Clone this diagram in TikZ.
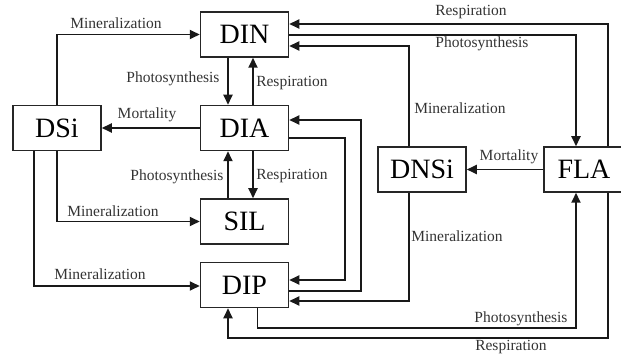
\documentclass[tikz,border=0pt]{standalone}
\usepackage{fontspec}
\setmainfont{Liberation Serif}
\usetikzlibrary{arrows.meta,calc}
\begin{document}
\begin{tikzpicture}[x=1pt,y=-1pt,
  box/.style={draw=black!85,line width=1.5pt,fill=white,minimum width=88pt,minimum height=45pt,inner sep=0pt,font=\fontsize{28}{30}\selectfont},
  arr/.style={draw=black!90,line width=1.9pt,-{Triangle[length=10pt,width=9pt]}},
  lab/.style={font=\fontsize{15.5}{17}\selectfont,text=black!80,inner sep=0pt}]
\useasboundingbox (0,0) rectangle (621,358);
% nodes
\node[box] (DIN) at (244.5,34.5) {DIN};
\node[box] (DIA) at (244.5,128) {DIA};
\node[box] (DSi) at (57,128) {DSi};
\node[box] (SIL) at (244.5,221.5) {SIL};
\node[box] (DIP) at (244.5,285) {DIP};
\node[box] (DNSi) at (422,169.5) {DNSi};
\node[box,minimum width=80pt] (FLA) at (584,169.5) {FLA};
% waypoints
\coordinate (rowA) at (420,328);
\coordinate (rowB) at (420,338);
\coordinate (colA) at (345,200);
\coordinate (colB) at (361,200);
% left side
\draw[arr] (DSi.north) |- (DIN.west);
\node[lab] at (116,23) {Mineralization};
\draw[arr] ([xshift=-16.5pt]DIN.south) -- ([xshift=-16.5pt]DIA.north);
\node[lab] at (173,79) {Photosynthesis};
\draw[arr] ([xshift=8.5pt]DIA.north) -- ([xshift=8.5pt]DIN.south);
\node[lab] at (292,83) {Respiration};
\draw[arr] (DIA.west) -- (DSi.east);
\node[lab] at (147,115) {Mortality};
\draw[arr] ([xshift=-16.5pt]SIL.north) -- ([xshift=-16.5pt]DIA.south);
\node[lab] at (177,177) {Photosynthesis};
\draw[arr] ([xshift=8.5pt]DIA.south) -- ([xshift=8.5pt]SIL.north);
\node[lab] at (292,176) {Respiration};
\draw[arr] (DSi.south) |- (SIL.west);
\node[lab] at (113,211) {Mineralization};
\draw[arr] ([xshift=-23pt]DSi.south) |- ([yshift=-1pt]DIP.west);
\node[lab] at (100,274) {Mineralization};
% DIA <-> DIP
\draw[arr] ([yshift=-10pt]DIA.east) -| (colA) |- ([yshift=5pt]DIP.east);
\draw[arr] ([yshift=-6pt]DIP.east) -| (colB) |- ([yshift=8pt]DIA.east);
% DNSi
\draw[arr] ([xshift=-13pt]DNSi.north) |- ([yshift=-11.5pt]DIN.east);
\node[lab] at (460,108) {Mineralization};
\draw[arr] ([xshift=-13pt]DNSi.south) |- ([yshift=-16pt]DIP.east);
\node[lab] at (457,236) {Mineralization};
\draw[arr] (FLA.west) -- (DNSi.east);
\node[lab] at (509,157) {Mortality};
% FLA top
\draw[arr] ([xshift=24pt]FLA.north) |- ([yshift=10.5pt]DIN.east);
\node[lab] at (471,12) {Respiration};
\draw[arr] ([yshift=-0.5pt]DIN.east) -| ([xshift=-8pt]FLA.north);
\node[lab] at (482,44) {Photosynthesis};
% FLA bottom
\draw[arr] ([xshift=13pt]DIP.south) |- (rowA) -| ([xshift=-8pt]FLA.south);
\node[lab] at (521,319) {Photosynthesis};
\draw[arr] ([xshift=24pt]FLA.south) |- (rowB) -| ([xshift=-16.5pt]DIP.south);
\node[lab] at (511,347) {Respiration};
\end{tikzpicture}
\end{document}
